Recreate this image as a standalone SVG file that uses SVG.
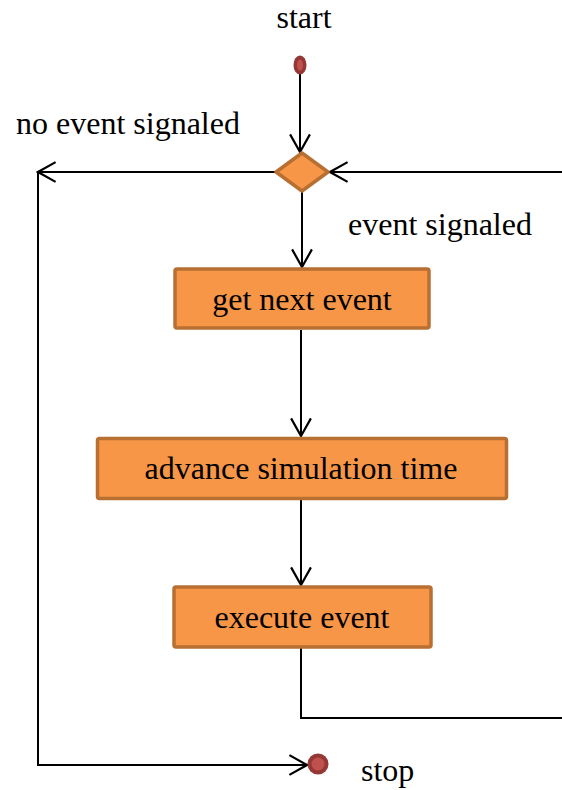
<svg xmlns="http://www.w3.org/2000/svg" width="562" height="790" viewBox="0 0 562 790">
  <style>
    .box rect { fill: #F79646; stroke: #B86F32; stroke-width: 3.5; }
    .edge { fill: none; stroke: #000; stroke-width: 2; }
  </style>
  <defs>
    <marker id="arrow" viewBox="0 0 20 20" refX="18" refY="10" markerWidth="22" markerHeight="22" markerUnits="userSpaceOnUse" orient="auto">
      <path d="M2,1 L18,10 L2,19" fill="none" stroke="#000" stroke-width="2"/>
    </marker>
  </defs>

  <rect width="562" height="790" fill="#fff"/>

  <g id="connectors">
    <path class="edge" d="M300,74 V152" marker-end="url(#arrow)"/>
    <path class="edge" d="M276,172 H38" marker-end="url(#arrow)"/>
    <path class="edge" d="M38,172 V765 H307" marker-end="url(#arrow)"/>
    <path class="edge" d="M562,172 H330" marker-end="url(#arrow)"/>
    <path class="edge" d="M302,191 V267" marker-end="url(#arrow)"/>
    <path class="edge" d="M301,330 V436" marker-end="url(#arrow)"/>
    <path class="edge" d="M301,500 V585" marker-end="url(#arrow)"/>
    <path class="edge" d="M301,648 V718 H562"/>
  </g>

  <g id="start">
    <ellipse cx="300" cy="65" rx="6.5" ry="9.5" fill="#953735"/>
    <ellipse cx="300" cy="65" rx="3" ry="5.5" fill="#C0504D"/>
    <text x="304" y="28" text-anchor="middle" style="font-family:'Liberation Serif',serif;font-size:32px">start</text>
  </g>

  <g id="decision">
    <polygon points="302,153 328,172 302,191 276,172" fill="#F79646" stroke="#B86F32" stroke-width="3.5" stroke-linejoin="round"/>
  </g>

  <g id="get-next-event" class="box">
    <rect x="175" y="269" width="254" height="59" rx="2"/>
    <text x="302" y="310" text-anchor="middle" style="font-family:'Liberation Serif',serif;font-size:32px">get next event</text>
  </g>

  <g id="advance-time" class="box">
    <rect x="97.5" y="438.5" width="409" height="60" rx="2"/>
    <text x="301" y="479" text-anchor="middle" style="font-family:'Liberation Serif',serif;font-size:32px">advance simulation time</text>
  </g>

  <g id="execute-event" class="box">
    <rect x="174" y="587" width="257" height="60" rx="2"/>
    <text x="302" y="628" text-anchor="middle" style="font-family:'Liberation Serif',serif;font-size:32px">execute event</text>
  </g>

  <g id="stop">
    <circle cx="318" cy="764" r="10.5" fill="#953735"/>
    <circle cx="318" cy="764" r="6.5" fill="#C0504D"/>
    <text x="361" y="781" style="font-family:'Liberation Serif',serif;font-size:32px">stop</text>
  </g>

  <text x="16" y="134" style="font-family:'Liberation Serif',serif;font-size:32px">no event signaled</text>
  <text x="348" y="235" style="font-family:'Liberation Serif',serif;font-size:32px">event signaled</text>
</svg>
